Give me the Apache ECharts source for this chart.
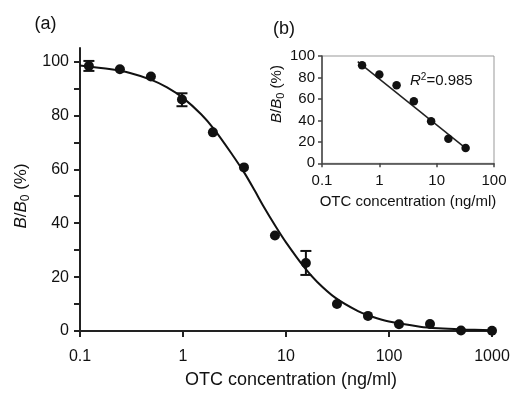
<!DOCTYPE html>
<html>
<head>
<meta charset="utf-8">
<script src="https://cdn.jsdelivr.net/npm/echarts@6/dist/echarts.min.js"></script>
<style>html,body{margin:0;padding:0;background:#fff}#c{width:513px;height:394px}</style>
</head>
<body>
<div id="c"></div>
<script>
// ---- main panel (a) data ----
const conc = [0.122, 0.244, 0.488, 0.977, 1.95, 3.91, 7.81, 15.6, 31.25, 62.5, 125, 250, 500, 1000];
const bb0 = [98.3, 97.1, 94.4, 85.9, 73.7, 60.7, 35.4, 25.2, 10.0, 5.6, 2.5, 2.6, 0.2, 0.1];
const errLow = [96.5, null, null, 83.4, null, null, null, 20.8, null, null, null, null, null, null];
const errHigh = [100.2, null, null, 88.2, null, null, null, 29.7, null, null, null, null, null, null];
// fitted curve
const fitX = [0.1, 0.2, 0.3, 0.5, 0.7, 1, 1.5, 2, 3, 4, 5, 6, 8, 10, 15, 20, 30, 50, 70, 100, 200, 300, 500, 1000];
const fitY = [98.5, 97.1, 95.8, 93.1, 90.4, 86.5, 80.4, 74.9, 65.5, 58.3, 51.9, 46.5, 38.6, 32.9, 23.7, 18.3, 12.4, 7.4, 5.2, 3.5, 1.6, 1.0, 0.6, 0.3];
const mainYTicks = [0, 10, 20, 30, 40, 50, 60, 70, 80, 90, 100];
const mainYLabels = [0, 20, 40, 60, 80, 100];

// ---- inset panel (b) data ----
const insetConc = [0.5, 1, 2, 4, 8, 16, 32];
const insetVals = [91.4, 82.7, 72.8, 57.9, 39.3, 22.9, 14.2];
const regX = [0.42, 34];
const regY = [94.8, 13.0];
const insetYTicks = [0, 20, 40, 60, 80, 100];

const fmtLog = v => String(Number(v.toPrecision(3)));

const chart = echarts.init(document.getElementById('c'));
const errData = [];
conc.forEach((c, i) => { if (errLow[i] != null) errData.push([c, errLow[i], errHigh[i]]); });

function errRender(params, api) {
  const x = api.value(0);
  const lo = api.coord([x, api.value(1)]);
  const hi = api.coord([x, api.value(2)]);
  const w = 5.5;
  const st = { stroke: '#111', lineWidth: 2 };
  return {
    type: 'group',
    children: [
      { type: 'line', shape: { x1: lo[0], y1: lo[1], x2: hi[0], y2: hi[1] }, style: st },
      { type: 'line', shape: { x1: lo[0] - w, y1: lo[1], x2: lo[0] + w, y2: lo[1] }, style: st },
      { type: 'line', shape: { x1: hi[0] - w, y1: hi[1], x2: hi[0] + w, y2: hi[1] }, style: st }
    ]
  };
}

const txt = '#111';
const option = {
  backgroundColor: '#fff',
  animation: false,
  textStyle: { fontFamily: 'Liberation Sans, Arial, sans-serif' },
  grid: [
    { left: 80, right: 21, top: 48, bottom: 63 },
    { left: 322, top: 56, width: 172, height: 107.3, show: true, borderColor: '#999', borderWidth: 1, backgroundColor: 'transparent', z: 5 }
  ],
  xAxis: [
    {
      gridIndex: 0, type: 'log', logBase: 10, min: 0.1, max: 1000,
      axisLine: { show: true, lineStyle: { color: '#222', width: 2 } },
      axisTick: { show: true, inside: false, length: 6, lineStyle: { color: '#222', width: 2 } },
      axisLabel: { fontSize: 16, color: txt, margin: 18, formatter: fmtLog, fontFamily: 'Liberation Sans' },
      splitLine: { show: false }, minorTick: { show: false }
    },
    {
      gridIndex: 1, type: 'log', logBase: 10, min: 0.1, max: 100, z: 6,
      axisLine: { show: true, lineStyle: { color: '#444', width: 1.5 } },
      axisTick: { show: true, inside: false, length: 4, lineStyle: { color: '#444', width: 1.5 } },
      axisLabel: { fontSize: 15, color: txt, margin: 10, formatter: fmtLog, fontFamily: 'Liberation Sans' },
      splitLine: { show: false }
    }
  ],
  yAxis: [
    {
      gridIndex: 0, type: 'value', min: 0, max: 105,
      axisLine: { show: true, lineStyle: { color: '#222', width: 2 } },
      axisTick: { show: true, inside: false, length: 6, customValues: mainYTicks, lineStyle: { color: '#222', width: 2 } },
      axisLabel: { fontSize: 16, color: txt, margin: 11, customValues: mainYLabels, fontFamily: 'Liberation Sans' },
      splitLine: { show: false }
    },
    {
      gridIndex: 1, type: 'value', min: 0, max: 100, interval: 20, z: 6,
      axisLine: { show: true, lineStyle: { color: '#444', width: 1.5 } },
      axisTick: { show: true, inside: false, length: 4, customValues: insetYTicks, lineStyle: { color: '#444', width: 1.5 } },
      axisLabel: { fontSize: 15, color: txt, margin: 7, customValues: insetYTicks, fontFamily: 'Liberation Sans' },
      splitLine: { show: false }
    }
  ],
  series: [
    {
      type: 'line', xAxisIndex: 0, yAxisIndex: 0, smooth: 0.3, showSymbol: false, symbol: 'none',
      data: fitX.map((x, i) => [x, fitY[i]]),
      lineStyle: { color: '#111', width: 2 }, z: 2
    },
    {
      type: 'scatter', xAxisIndex: 0, yAxisIndex: 0, symbol: 'circle', symbolSize: 10,
      data: conc.map((x, i) => [x, bb0[i]]),
      itemStyle: { color: '#111', opacity: 1 }, z: 3
    },
    {
      type: 'custom', xAxisIndex: 0, yAxisIndex: 0, renderItem: errRender,
      data: errData, z: 4
    },
    {
      type: 'line', xAxisIndex: 1, yAxisIndex: 1, showSymbol: false, symbol: 'none',
      data: regX.map((x, i) => [x, regY[i]]),
      lineStyle: { color: '#222', width: 1.5 }, z: 7
    },
    {
      type: 'scatter', xAxisIndex: 1, yAxisIndex: 1, symbol: 'circle', symbolSize: 8.5,
      data: insetConc.map((x, i) => [x, insetVals[i]]),
      itemStyle: { color: '#111', opacity: 1 }, z: 8
    }
  ],
  graphic: [
    { type: 'text', x: 45.5, y: 24.5, style: { text: '(a)', fontSize: 18, fill: txt, align: 'center', verticalAlign: 'middle', fontFamily: 'Liberation Sans' } },
    { type: 'text', x: 284, y: 29.5, style: { text: '(b)', fontSize: 18, fill: txt, align: 'center', verticalAlign: 'middle', fontFamily: 'Liberation Sans' } },
    { type: 'text', x: 291, y: 380, style: { text: 'OTC concentration (ng/ml)', fontSize: 18, fill: txt, align: 'center', verticalAlign: 'middle', fontFamily: 'Liberation Sans' } },
    { type: 'text', x: 408, y: 201.5, z: 10, style: { text: 'OTC concentration (ng/ml)', fontSize: 15, fill: txt, align: 'center', verticalAlign: 'middle', fontFamily: 'Liberation Sans' } },
    {
      type: 'text', x: 21, y: 196, rotation: Math.PI / 2,
      style: {
        text: '{i|B}{n|/}{i|B}{s|0}{n| (%)}', align: 'center', verticalAlign: 'middle', fill: txt, fontFamily: 'Liberation Sans',
        rich: {
          i: { fontSize: 17, fontStyle: 'italic', lineHeight: 22, fill: txt, fontFamily: 'Liberation Sans' },
          n: { fontSize: 17, lineHeight: 22, fill: txt, fontFamily: 'Liberation Sans' },
          s: { fontSize: 12, lineHeight: 12, verticalAlign: 'bottom', fill: txt, fontFamily: 'Liberation Sans' }
        }
      }
    },
    {
      type: 'text', x: 277, y: 94, rotation: Math.PI / 2, z: 10,
      style: {
        text: '{i|B}{n|/}{i|B}{s|0}{n| (%)}', align: 'center', verticalAlign: 'middle', fill: txt, fontFamily: 'Liberation Sans',
        rich: {
          i: { fontSize: 15, fontStyle: 'italic', lineHeight: 19, fill: txt, fontFamily: 'Liberation Sans' },
          n: { fontSize: 15, lineHeight: 19, fill: txt, fontFamily: 'Liberation Sans' },
          s: { fontSize: 11, lineHeight: 11, verticalAlign: 'bottom', fill: txt, fontFamily: 'Liberation Sans' }
        }
      }
    },
    {
      type: 'text', x: 410, y: 81, z: 10,
      style: {
        text: '{i|R}{p|2}{n|=0.985}', align: 'left', verticalAlign: 'middle', fill: txt, fontFamily: 'Liberation Sans',
        rich: {
          i: { fontSize: 15, fontStyle: 'italic', lineHeight: 18, fill: txt, fontFamily: 'Liberation Sans' },
          n: { fontSize: 15, lineHeight: 18, fill: txt, fontFamily: 'Liberation Sans' },
          p: { fontSize: 10, lineHeight: 10, verticalAlign: 'top', fill: txt, fontFamily: 'Liberation Sans' }
        }
      }
    }
  ]
};
chart.setOption(option);
</script>
</body>
</html>
